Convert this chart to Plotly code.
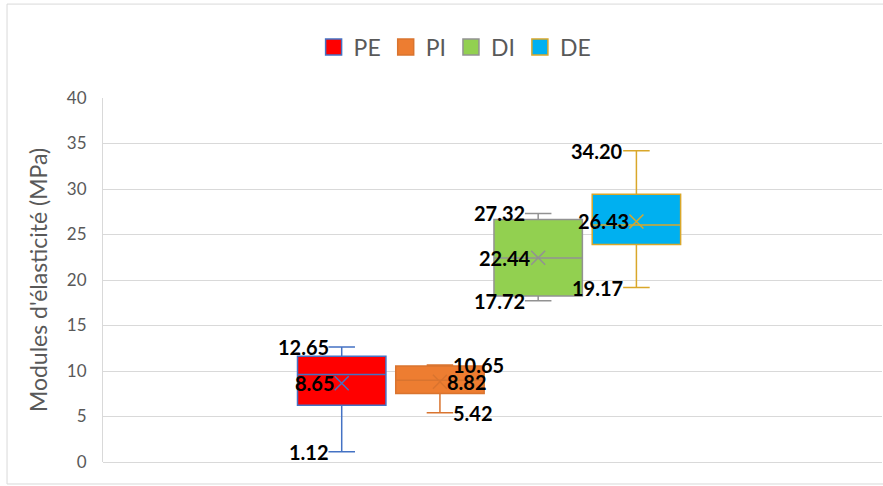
import plotly.graph_objects as go

# Elastic modulus (MPa) summary statistics per sample group
series = ["PE", "PI", "DI", "DE"]
minimum = [1.12, 5.42, 17.72, 19.17]
q1 = [6.25, 7.53, 18.25, 23.89]
median = [9.62, 8.99, 22.42, 26.05]
q3 = [11.63, 10.56, 26.66, 29.42]
maximum = [12.65, 10.65, 27.32, 34.20]
mean = [8.65, 8.82, 22.44, 26.43]

y_ticks = [0, 5, 10, 15, 20, 25, 30, 35, 40]

# Styling per group
fills = ["#FF0000", "#ED7D31", "#92D050", "#00B0F0"]
lines = ["#4472C4", "#D9742F", "#929292", "#D9A72A"]
label_side = ["left", "right", "left", "left"]

FONT = "Lato, 'Open Sans', sans-serif"
GREY = "#595959"
GRID = "#D9D9D9"

fig = go.Figure()

for i, name in enumerate(series):
    fig.add_trace(go.Box(
        x=[name],
        q1=[q1[i]], median=[median[i]], q3=[q3[i]],
        lowerfence=[minimum[i]], upperfence=[maximum[i]],
        name=name,
        fillcolor=fills[i],
        line=dict(color=lines[i], width=1.5),
        width=0.9,
        whiskerwidth=0.3,
        boxpoints=False,
        showlegend=False,
        hoverinfo="skip",
    ))
    # mean marker
    fig.add_trace(go.Scatter(
        x=[name], y=[mean[i]], mode="markers",
        marker=dict(symbol="x-thin-open", size=14, color=lines[i],
                    line=dict(color=lines[i], width=1.5)),
        showlegend=False, hoverinfo="skip",
    ))
    # legend entry
    fig.add_trace(go.Scatter(
        x=[None], y=[None], mode="markers", name=name,
        marker=dict(symbol="square", size=16, color=fills[i],
                    line=dict(color=lines[i], width=1.5)),
    ))

# value labels: max, mean, min
annotations = []
for i, name in enumerate(series):
    left = label_side[i] == "left"
    for val, is_mean in ((maximum[i], False), (mean[i], True), (minimum[i], False)):
        shift = (6 if is_mean else 12)
        annotations.append(dict(
            x=name, y=val, xref="x", yref="y",
            text=f"{val:.2f}", showarrow=False,
            xanchor="right" if left else "left",
            yanchor="middle", borderpad=0,
            xshift=-shift if left else shift,
            font=dict(family=FONT, size=20, color="#000000", weight="bold"),
        ))

# chart area border
fig.add_shape(type="rect", xref="paper", yref="paper",
              x0=-0.1232, x1=1.05, y0=-0.0604, y1=1.258,
              line=dict(color=GRID, width=1), fillcolor="rgba(0,0,0,0)",
              layer="below")

fig.update_layout(
    width=883, height=486,
    margin=dict(l=103, r=1, t=98, b=24),
    paper_bgcolor="white", plot_bgcolor="white",
    font=dict(family=FONT, color=GREY),
    annotations=annotations,
    showlegend=True,
    legend=dict(orientation="h", x=0.452, xanchor="center", y=1.14,
                yanchor="middle", font=dict(size=23, color=GREY),
                itemsizing="trace", bgcolor="rgba(0,0,0,0)"),
    xaxis=dict(type="category", categoryorder="array", categoryarray=series,
               range=[-2.43, 5.50], showticklabels=False, showgrid=False,
               zeroline=False, showline=False, ticks=""),
    yaxis=dict(range=[0, 40], tickvals=y_ticks, showgrid=True, gridcolor=GRID,
               gridwidth=1, zeroline=True, zerolinecolor=GRID, zerolinewidth=1,
               showline=True, linecolor=GRID, linewidth=1,
               ticks="", ticklabelstandoff=12,
               tickfont=dict(size=17, color=GREY),
               title=dict(text="Modules d'élasticité (MPa)", standoff=12,
                          font=dict(size=23, color=GREY))),
)

fig.write_html("out.html")
